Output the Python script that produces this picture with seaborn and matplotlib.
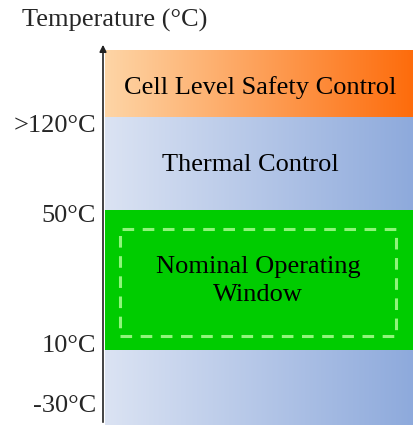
import numpy as np
import matplotlib.pyplot as plt
import seaborn as sns

# ---------- DATA ----------
tick_labels = ["-30°C", "10°C", "50°C", ">120°C"]
tick_pos = [22, 82, 212, 302]          # position of each label on the (non-linear) axis

band_names = ["Thermal Control", "Nominal Operating\nWindow", "Cell Level Safety Control"]
band_low = [0, 75, 308]
band_high = [308, 215, 375]
band_text_x = [147, 155, 157]
band_text_y = [260, 144, 337]

window_box = (17, 89, 276, 107)        # dashed nominal window (x, y, w, h)

# ---------- STYLE ----------
sns.set_theme(style="white")
plt.rcParams["font.family"] = ["Liberation Serif", "DejaVu Serif"]

blue_cmap = sns.blend_palette(["#dbe3f3", "#8eaadc"], n_colors=256, as_cmap=True)
orange_cmap = sns.blend_palette(["#fdd5a6", "#fe6c0c"], n_colors=256, as_cmap=True)
green = "#00cc00"

fig = plt.figure(figsize=(4.13, 4.25), dpi=100)
ax = fig.add_axes([103 / 413, 0, 310 / 413, 382 / 425])
ax.set_xlim(0, 310)
ax.set_ylim(0, 382)

grad = np.linspace(0, 1, 256).reshape(1, -1)
x0 = 2
# thermal control (blue) region
ax.imshow(grad, cmap=blue_cmap, aspect="auto", extent=(x0, 310, band_low[0], band_high[0]), zorder=1)
# cell level safety (orange) region
ax.imshow(grad, cmap=orange_cmap, aspect="auto", extent=(x0, 310, band_low[2], band_high[2]), zorder=1)
# nominal operating window (green)
ax.add_patch(plt.Rectangle((x0, band_low[1]), 310 - x0, band_high[1] - band_low[1],
                           facecolor=green, edgecolor="none", zorder=2))
bx, by, bw, bh = window_box
ax.add_patch(plt.Rectangle((bx, by), bw, bh, facecolor="none", edgecolor="#8ff57a",
                           lw=2.2, linestyle=(0, (3.8, 2.8)), zorder=3))

fs = 19
for name, tx, ty in zip(band_names, band_text_x, band_text_y):
    ax.text(tx, ty, name, ha="center", va="center", fontsize=fs, color="black",
            linespacing=1.4, zorder=4)

# y axis arrow
ax.annotate("", xy=(0, 383), xytext=(0, 0),
            arrowprops=dict(arrowstyle="-|>", color="#222222", lw=1.2, mutation_scale=10),
            annotation_clip=False, zorder=5)

ax.set_yticks(tick_pos, tick_labels)
ax.tick_params(axis="y", length=0, pad=5, labelsize=fs)
ax.set_xticks([])
for s in ax.spines.values():
    s.set_visible(False)

fig.text(22 / 413, 1 - 20 / 425, "Temperature (°C)", ha="left", va="center", fontsize=fs)

fig.savefig("out.png", dpi=100)
